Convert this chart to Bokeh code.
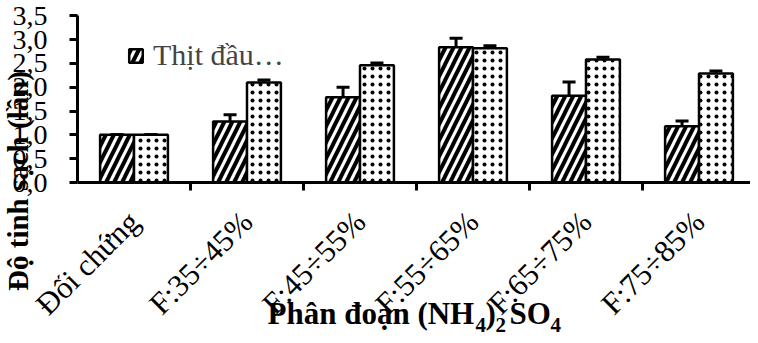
import numpy as np
from bokeh.plotting import figure
from bokeh.models import (ColumnDataSource, Range1d, FixedTicker, Whisker, TeeHead,
                          Label, Legend, LegendItem)
from bokeh.embed import file_html
from bokeh.resources import INLINE

categories = ["Đối chứng", "F:35÷45%", "F:45÷55%", "F:55÷65%", "F:65÷75%", "F:75÷85%"]
series1_name = "Thịt đầu…"
series1 = [1.00, 1.28, 1.79, 2.84, 1.82, 1.18]
series1_err = [0.0, 0.14, 0.21, 0.19, 0.29, 0.11]
series2 = [1.00, 2.10, 2.46, 2.82, 2.58, 2.29]
series2_err = [0.0, 0.05, 0.05, 0.05, 0.05, 0.05]
y_ticks = [0.0, 0.5, 1.0, 1.5, 2.0, 2.5, 3.0, 3.5]
y_title = "Độ tinh sạch (lần)"
x_title_parts = ["Phân đoạn (NH", "4", ")", "2", "SO", "4"]

FONT = "Liberation Serif"
n = len(categories)
centers = np.arange(n) + 0.5

W, H = 750, 335
X0, Y0 = 77, 182          # canvas position of the data origin
PX_X, PX_Y = 113.0, 47.63  # pixels per category / per unit

s1 = ColumnDataSource(dict(x=centers - 0.15, top=series1,
                           upper=np.array(series1) + np.array(series1_err),
                           lower=np.array(series1) - np.array(series1_err)))
s2 = ColumnDataSource(dict(x=centers + 0.15, top=series2,
                           upper=np.array(series2) + np.array(series2_err),
                           lower=np.array(series2) - np.array(series2_err)))

p = figure(width=W, height=H,
           x_range=Range1d(-X0 / PX_X, (W - X0) / PX_X),
           y_range=Range1d(-(H - Y0) / PX_Y, Y0 / PX_Y),
           output_backend="svg", toolbar_location=None, min_border=0)
p.xgrid.visible = False
p.ygrid.visible = False
p.outline_line_color = None
p.background_fill_color = "white"
p.border_fill_color = "white"

r1 = p.vbar(x="x", top="top", width=0.3, source=s1, fill_color="white", line_color="black",
            line_width=2.5, hatch_pattern="/", hatch_color="black", hatch_scale=16, hatch_weight=4)
r2 = p.vbar(x="x", top="top", width=0.3, source=s2, fill_color="white", line_color="black",
            line_width=2.5, hatch_pattern=".", hatch_color="black", hatch_scale=8, hatch_weight=1)

for src in (s1, s2):
    w = Whisker(base="x", upper="upper", lower="lower", source=src, line_width=3, line_color="black",
                upper_head=TeeHead(size=13, line_width=3, line_color="black"),
                lower_head=TeeHead(size=13, line_width=3, line_color="black"))
    p.add_layout(w)

# y axis
yax = p.yaxis[0]
yax.fixed_location = 0
yax.bounds = (0, 3.5)
yax.ticker = FixedTicker(ticks=y_ticks)
yax.major_label_overrides = {t: f"{t:.1f}".replace(".", ",") for t in y_ticks}
yax.major_label_text_font = FONT
yax.major_label_text_font_size = "28px"
yax.major_label_text_color = "black"
yax.axis_line_width = 3
yax.major_tick_line_width = 3
yax.major_tick_out = 8
yax.major_tick_in = 0
yax.minor_tick_line_color = None
yax.major_label_standoff = 22

# x axis: labels at category centres, tick marks at category boundaries
xax = p.xaxis[0]
xax.fixed_location = 0
xax.bounds = (0, n)
xax.ticker = FixedTicker(ticks=list(centers), minor_ticks=list(np.arange(1, n)))
xax.major_label_overrides = {float(c): lab for c, lab in zip(centers, categories)}
xax.major_label_orientation = np.pi / 4
xax.major_label_text_font = FONT
xax.major_label_text_font_size = "31px"
xax.major_label_text_color = "black"
xax.major_tick_out = 0
xax.major_tick_in = 0
xax.minor_tick_out = 8
xax.minor_tick_in = 0
xax.minor_tick_line_width = 3
xax.axis_line_width = 3
xax.major_label_standoff = 26

# legend (first series only)
legend = Legend(items=[LegendItem(label=series1_name, renderers=[r1])], location=(127, 263),
                label_text_font=FONT, label_text_font_size="30px", glyph_width=17, glyph_height=17,
                padding=0, margin=0, spacing=0, label_standoff=9,
                border_line_color=None, background_fill_alpha=0)
p.add_layout(legend, "center")

# axis titles (screen units: from canvas bottom-left)
p.add_layout(Label(x=17, y=H - 180.5, x_units="screen", y_units="screen", text=y_title, angle=np.pi / 2,
                   text_font=FONT, text_font_style="bold", text_font_size="29px",
                   text_align="center", text_baseline="alphabetic", text_color="black"))

xt_x = [267, 475, 485, 495, 509, 550]
xt_y = [H - 313, H - 324, H - 313, H - 324, H - 313, H - 324]
xt_sz = ["31px", "21px", "31px", "21px", "31px", "21px"]
for t, xx, yy, sz in zip(x_title_parts, xt_x, xt_y, xt_sz):
    p.add_layout(Label(x=xx, y=yy, x_units="screen", y_units="screen", text=t,
                       text_font=FONT, text_font_style="bold", text_font_size=sz,
                       text_align="left", text_baseline="alphabetic", text_color="black"))

open("out.html", "w").write(file_html(p, INLINE))
